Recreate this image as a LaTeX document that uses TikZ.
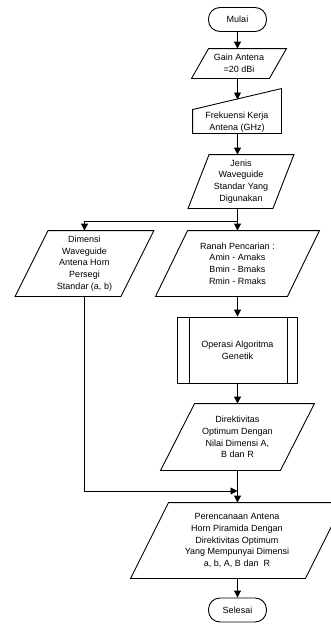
\documentclass[tikz,border=0pt]{standalone}
\usepackage{fontspec}
\setmainfont{Liberation Sans}
\usetikzlibrary{arrows.meta,calc}

% outline of a data (input/output) box round a named node
\newcommand{\ioshape}[2]{%
  \draw ([xshift=#2]#1.north west) -- ([xshift=#2]#1.north east)
    -- ([xshift=-#2]#1.south east) -- ([xshift=-#2]#1.south west) -- cycle;}

\begin{document}
\begin{tikzpicture}[x=1pt, y=-1pt, line width=0.9pt,
    every node/.style={font=\fontsize{9}{11.7}\selectfont, align=center, inner sep=0pt},
    term/.style={draw, rounded corners=11.5pt, minimum width=58pt, minimum height=24pt},
    io/.style={minimum width=#1},
    proc/.style={draw, minimum width=120pt, minimum height=66pt},
    flow/.style={-{Triangle[length=7pt,width=7pt]}}]

    \pgfmathsetmacro{\leftCol}{84.5}
    \pgfmathsetmacro{\midCol}{237.5}

    \useasboundingbox (0,0) rectangle (331,624);
    \clip (0,0) rectangle (331,624);

    \node[term] (start) at (\midCol, 19.5) {Mulai};

    \node[io=77pt, minimum height=29pt] (gain) at (239, 63.5) {Gain Antena\\=20 dBi};
    \ioshape{gain}{8.5pt}

    % manual input with its slanted top
    \node[minimum width=88pt, minimum height=22pt] (frek) at (237, 122) {Frekuensi Kerja\\Antena (GHz)};
    \draw ([yshift=1pt]frek.north west) -- ([yshift=22pt]frek.north east)
        -- (frek.south east) -- (frek.south west) -- cycle;
    \coordinate (frektop) at (\midCol, 99.5);

    \node[io=84pt, minimum height=53pt] (jenis) at (241, 181.5) {Jenis\\Waveguide\\Standar Yang\\Digunakan};
    \ioshape{jenis}{10.5pt}

    % second row
    \node[io=105pt, minimum height=65pt] (dimensi) at (\leftCol, 263.5) {Dimensi\\Waveguide\\Antena Horn\\Persegi\\Standar (a, b)};
    \ioshape{dimensi}{16.5pt}

    \node[io=131pt, minimum height=65pt] (ranah) at (\midCol, 263.5) {Ranah Pencarian :\\Amin - Amaks\\Bmin - Bmaks\\Rmin - Rmaks};
    \ioshape{ranah}{16pt}

    \node[proc] (ga) at (\midCol, 350) {Operasi Algoritma\\Genetik};
    \draw ([xshift=12pt]ga.north west) -- ([xshift=12pt]ga.south west);
    \draw ([xshift=-11pt]ga.north east) -- ([xshift=-11pt]ga.south east);

    \node[io=119pt, minimum height=66pt] (direk) at (\midCol, 437) {Direktivitas\\Optimum Dengan\\Nilai Dimensi A,\\B dan R};
    \ioshape{direk}{17pt}

    \node[io=174pt, minimum height=75pt] (rancang) at (237, 540.5) {Perencanaan Antena\\Horn Piramida Dengan\\Direktivitas Optimum\\Yang Mempunyai Dimensi\\a, b, A, B dan~~R};
    \ioshape{rancang}{19pt}

    \node[term] (stop) at (\midCol, 610) {Selesai};

    % connectors
    \draw[flow] (start) -- (start |- gain.north);
    \draw[flow] (start |- gain.south) -- (frektop);
    \draw[flow] (frek.south -| frektop) -- (frektop |- jenis.north);
    \coordinate (split) at (\midCol, 221);
    \draw[flow] (ranah.north |- jenis.south) -- (ranah.north);
    \draw[flow] (split) -| (dimensi.north);
    \draw[flow] (ranah) -- (ga);
    \draw[flow] (ga) -- (direk);
    \coordinate (merge) at (\midCol, 491);
    \draw[flow] (dimensi.south) |- (merge);
    \draw[flow] (direk.south) -- (direk.south |- rancang.north);
    \draw[flow] (rancang.south -| stop) -- (stop);
\end{tikzpicture}
\end{document}
